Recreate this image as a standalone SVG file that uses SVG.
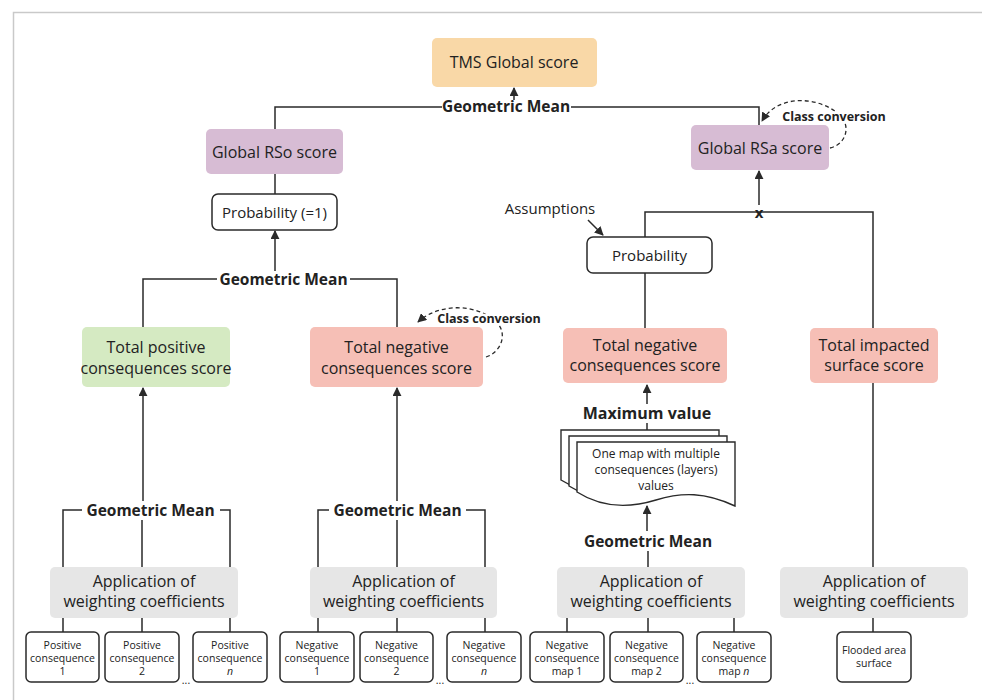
<svg xmlns="http://www.w3.org/2000/svg" xmlns:xlink="http://www.w3.org/1999/xlink" width="982" height="700" viewBox="0 0 982 700">
<defs>
<style>
text{font-family:"Open Sans","Liberation Sans",sans-serif;fill:#222;dominant-baseline:central;text-anchor:middle}
.t16{font-size:16px}
.t15{font-size:15px}
.b{font-weight:bold;font-size:15.5px}
.cc{font-weight:bold;font-size:12.5px;stroke:#fff;stroke-width:5px;paint-order:stroke;stroke-linejoin:round}
.s{font-size:10.5px}
.ln{fill:none;stroke:#2a2a2a;stroke-width:1.5}
.ar{fill:none;stroke:#2a2a2a;stroke-width:1.5;marker-end:url(#ah)}
.da{fill:none;stroke:#2a2a2a;stroke-width:1.3;stroke-dasharray:4 3;marker-end:url(#ah2)}
.orange{fill:#F9D8A7}
.purple{fill:#D7BCD4}
.green{fill:#D5EAC2}
.salmon{fill:#F6BFB6}
.gray{fill:#E6E6E6}
.wb{fill:#fff;stroke:#2a2a2a;stroke-width:1.5}
.doc{fill:#fff;stroke:#2a2a2a;stroke-width:1.4}
</style>
<marker id="ah" viewBox="0 0 10 10" refX="9" refY="5" markerWidth="6" markerHeight="6" markerUnits="strokeWidth" orient="auto">
<path d="M0,0 L10,5 L0,10 Z" fill="#2a2a2a"/>
</marker>
<marker id="ah2" viewBox="0 0 10 10" refX="9" refY="5" markerWidth="7" markerHeight="7" markerUnits="strokeWidth" orient="auto">
<path d="M0,0 L10,5 L0,10 Z" fill="#2a2a2a"/>
</marker>
<path id="docshape" d="M577,442 H735 V506 C705,492 682,492 656,500 C630,508 602,508 577,492 Z"/>
</defs>

<g id="frame">
<path d="M982,12.5 H13.5 V700" fill="none" stroke="#c9c9c9" stroke-width="1.5"/>
</g>

<g id="connectors">
<line class="ar" x1="514" y1="100" x2="514" y2="88"/>
<path class="ln" d="M275,129 V107 H442"/>
<path class="ln" d="M571,107 H759 V125"/>
<path class="da" d="M830,148 C848,144 852,122 836,112 C815,96 777,95 762,121"/>
<path class="ln" d="M275,174 V194"/>
<line class="ar" x1="275" y1="271" x2="275" y2="231"/>
<line class="ar" x1="759" y1="205" x2="759" y2="171"/>
<path class="ln" d="M645,237 V212 H873 V328"/>
<path class="ar" d="M588,220 L603,235"/>
<path class="ln" d="M645,273 V330"/>
<path class="ln" d="M143,327 V279 H217"/>
<path class="ln" d="M350,279 H397 V327"/>
<path class="da" d="M486,357 C502,352 508,332 496,322 C478,304 440,302 418,322"/>
<line class="ar" x1="143" y1="501" x2="143" y2="388"/>
<line class="ar" x1="397" y1="501" x2="397" y2="388"/>
<line class="ar" x1="647" y1="404" x2="647" y2="385"/>
<path class="ln" d="M647,423 V430"/>
<line class="ar" x1="647" y1="531" x2="647" y2="506"/>
<path class="ln" d="M648,551 V567"/>
<path class="ln" d="M873,383 V567"/>
<path class="ln" d="M63,567 V510 H82 M220,510 H230 V567 M142,520 V567"/>
<path class="ln" d="M318,567 V510 H329 M466,510 H485 V567 M397,520 V567"/>
<path class="ln" d="M63,618 V632 M142,618 V632 M230,618 V632 M318,618 V632 M397,618 V632 M485,618 V632 M567,618 V632 M648,618 V632 M734,618 V632 M873,618 V632"/>
</g>

<g id="tms"><rect class="orange" x="432" y="38" width="165" height="49" rx="5"/><text class="t16" x="514" y="62">TMS Global score</text></g>
<g id="gm-top"><text class="b" x="506" y="106">Geometric Mean</text></g>
<g id="rso"><rect class="purple" x="206" y="129" width="137" height="45" rx="5"/><text class="t16" x="274.5" y="151.5">Global RSo score</text></g>
<g id="rsa"><rect class="purple" x="691" y="125" width="138" height="45" rx="5"/><text class="t16" x="760" y="147.5">Global RSa score</text></g>
<g id="cc-rsa"><text class="cc" x="834" y="116">Class conversion</text></g>
<g id="prob1"><rect class="wb" x="212" y="194" width="125" height="36" rx="6"/><text class="t15" x="274.5" y="212">Probability (=1)</text></g>
<g id="times"><text class="b" x="759" y="212" style="font-size:15px">x</text></g>
<g id="assumptions"><text class="t15" x="550" y="208">Assumptions</text></g>
<g id="prob"><rect class="wb" x="587" y="237" width="125" height="36" rx="6"/><text class="t15" x="649.5" y="255">Probability</text></g>
<g id="gm-mid"><text class="b" x="283.5" y="279">Geometric Mean</text></g>

<g id="total-pos"><rect class="green" x="82" y="327" width="148" height="60" rx="5"/><text class="t16" x="156" y="347">Total positive</text><text class="t16" x="156" y="368">consequences score</text></g>
<g id="total-neg-left"><rect class="salmon" x="310" y="327" width="173" height="60" rx="5"/><text class="t16" x="396.5" y="347">Total negative</text><text class="t16" x="396.5" y="368">consequences score</text></g>
<g id="cc-neg"><text class="cc" x="489" y="318">Class conversion</text></g>
<g id="total-neg-right"><rect class="salmon" x="563" y="328" width="164" height="55" rx="5"/><text class="t16" x="645" y="345">Total negative</text><text class="t16" x="645" y="365">consequences score</text></g>
<g id="total-surface"><rect class="salmon" x="810" y="328" width="128" height="55" rx="5"/><text class="t16" x="874" y="345">Total impacted</text><text class="t16" x="874" y="365">surface score</text></g>

<g id="max-value"><text class="b" x="647" y="413" style="font-size:16px">Maximum value</text></g>
<g id="doc-stack">
<use xlink:href="#docshape" class="doc" transform="translate(-16,-12)"/>
<use xlink:href="#docshape" class="doc" transform="translate(-8,-6)"/>
<use xlink:href="#docshape" class="doc"/>
<text x="656" y="453" style="font-size:12px">One map with multiple</text>
<text x="656" y="469" style="font-size:12px">consequences (layers)</text>
<text x="656" y="485" style="font-size:12px">values</text>
</g>

<g id="gm-b1"><text class="b" x="150.5" y="510">Geometric Mean</text></g>
<g id="gm-b2"><text class="b" x="397.5" y="510">Geometric Mean</text></g>
<g id="gm-b3"><text class="b" x="648" y="541">Geometric Mean</text></g>

<g id="app1"><rect class="gray" x="50" y="567" width="188" height="51" rx="5"/><text class="t16" x="144" y="581">Application of</text><text class="t16" x="144" y="601">weighting coefficients</text></g>
<g id="app2"><rect class="gray" x="310" y="567" width="187" height="51" rx="5"/><text class="t16" x="403.5" y="581">Application of</text><text class="t16" x="403.5" y="601">weighting coefficients</text></g>
<g id="app3"><rect class="gray" x="557" y="567" width="188" height="51" rx="5"/><text class="t16" x="651" y="581">Application of</text><text class="t16" x="651" y="601">weighting coefficients</text></g>
<g id="app4"><rect class="gray" x="780" y="567" width="188" height="51" rx="5"/><text class="t16" x="874" y="581">Application of</text><text class="t16" x="874" y="601">weighting coefficients</text></g>

<g id="pos1"><rect class="wb" x="26" y="632" width="73" height="50" rx="5"/><text class="s" x="62.5" y="645">Positive</text><text class="s" x="62.5" y="658">consequence</text><text class="s" x="62.5" y="671">1</text></g>
<g id="pos2"><rect class="wb" x="105" y="632" width="74" height="50" rx="5"/><text class="s" x="142" y="645">Positive</text><text class="s" x="142" y="658">consequence</text><text class="s" x="142" y="671">2</text></g>
<g id="posn"><rect class="wb" x="193" y="632" width="74" height="50" rx="5"/><text class="s" x="230" y="645">Positive</text><text class="s" x="230" y="658">consequence</text><text class="s" x="230" y="671" font-style="italic">n</text></g>
<g id="neg1"><rect class="wb" x="280" y="632" width="74" height="50" rx="5"/><text class="s" x="317" y="645">Negative</text><text class="s" x="317" y="658">consequence</text><text class="s" x="317" y="671">1</text></g>
<g id="neg2"><rect class="wb" x="360" y="632" width="73" height="50" rx="5"/><text class="s" x="396.5" y="645">Negative</text><text class="s" x="396.5" y="658">consequence</text><text class="s" x="396.5" y="671">2</text></g>
<g id="negn"><rect class="wb" x="447" y="632" width="74" height="50" rx="5"/><text class="s" x="484" y="645">Negative</text><text class="s" x="484" y="658">consequence</text><text class="s" x="484" y="671" font-style="italic">n</text></g>
<g id="map1"><rect class="wb" x="530" y="632" width="74" height="50" rx="5"/><text class="s" x="567" y="645">Negative</text><text class="s" x="567" y="658">consequence</text><text class="s" x="567" y="671">map 1</text></g>
<g id="map2"><rect class="wb" x="610" y="632" width="73" height="50" rx="5"/><text class="s" x="646.5" y="645">Negative</text><text class="s" x="646.5" y="658">consequence</text><text class="s" x="646.5" y="671">map 2</text></g>
<g id="mapn"><rect class="wb" x="697" y="632" width="74" height="50" rx="5"/><text class="s" x="734" y="645">Negative</text><text class="s" x="734" y="658">consequence</text><text class="s" x="734" y="671">map <tspan font-style="italic">n</tspan></text></g>
<g id="flooded"><rect class="wb" x="837" y="632" width="74" height="50" rx="5"/><text class="s" x="874" y="650">Flooded area</text><text class="s" x="874" y="663">surface</text></g>

<g id="ellipses">
<text class="s" x="186" y="680">...</text>
<text class="s" x="440" y="680">...</text>
<text class="s" x="690" y="680">...</text>
</g>
</svg>
